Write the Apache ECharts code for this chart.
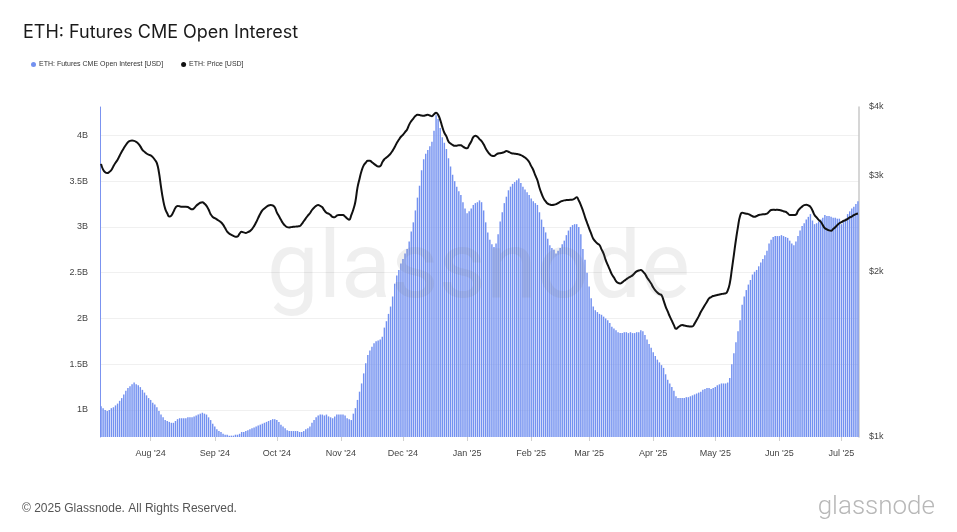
<!DOCTYPE html>
<html>
<head>
<meta charset="utf-8">
<script src="https://cdn.jsdelivr.net/npm/echarts@6/dist/echarts.min.js"></script>
<style>
html,body{margin:0;padding:0;background:#fff;}
#chart{width:957px;height:532px;}
</style>
</head>
<body>
<div id="chart"></div>
<script>
// ---- data ----
const startDate = '2024-07-08';
const openInterestB = [
1.04,1.02,1.00,0.99,1.00,1.02,1.03,1.05,1.07,1.10,
1.13,1.17,1.21,1.24,1.26,1.28,1.30,1.28,1.27,1.25,
1.22,1.19,1.16,1.13,1.11,1.08,1.06,1.03,0.99,0.95,
0.92,0.89,0.88,0.87,0.86,0.86,0.88,0.90,0.91,0.91,
0.91,0.91,0.92,0.92,0.92,0.93,0.94,0.95,0.96,0.97,
0.96,0.95,0.92,0.89,0.85,0.82,0.79,0.77,0.76,0.74,
0.73,0.73,0.72,0.72,0.72,0.73,0.73,0.74,0.76,0.76,
0.77,0.78,0.79,0.80,0.81,0.82,0.83,0.84,0.85,0.86,
0.87,0.88,0.89,0.90,0.90,0.89,0.87,0.84,0.82,0.80,
0.78,0.77,0.77,0.77,0.77,0.77,0.76,0.76,0.77,0.79,
0.80,0.82,0.86,0.89,0.92,0.94,0.95,0.95,0.94,0.95,
0.93,0.92,0.91,0.93,0.95,0.95,0.95,0.95,0.94,0.91,
0.90,0.89,0.96,1.02,1.11,1.20,1.29,1.40,1.51,1.60,
1.65,1.69,1.73,1.75,1.76,1.77,1.80,1.90,1.97,2.05,
2.13,2.24,2.38,2.47,2.53,2.60,2.65,2.71,2.76,2.84,
2.95,3.05,3.18,3.32,3.45,3.62,3.74,3.80,3.84,3.88,
3.93,4.05,4.22,4.18,4.08,3.98,3.92,3.85,3.75,3.66,
3.57,3.50,3.44,3.39,3.35,3.27,3.20,3.15,3.17,3.20,
3.24,3.26,3.27,3.29,3.27,3.18,3.05,2.94,2.86,2.81,
2.78,2.82,2.92,3.06,3.16,3.26,3.33,3.40,3.44,3.47,
3.49,3.51,3.53,3.48,3.44,3.41,3.38,3.35,3.31,3.28,
3.26,3.24,3.16,3.08,3.00,2.94,2.87,2.80,2.77,2.75,
2.71,2.74,2.77,2.81,2.85,2.91,2.96,3.00,3.02,3.03,
3.03,3.00,2.92,2.76,2.64,2.50,2.35,2.22,2.13,2.09,
2.07,2.05,2.04,2.02,2.00,1.98,1.95,1.91,1.89,1.87,
1.85,1.84,1.84,1.85,1.85,1.84,1.85,1.84,1.84,1.85,
1.85,1.87,1.86,1.82,1.77,1.72,1.68,1.63,1.59,1.55,
1.52,1.49,1.46,1.39,1.33,1.29,1.25,1.21,1.15,1.13,
1.13,1.13,1.13,1.14,1.14,1.15,1.16,1.17,1.18,1.19,
1.20,1.22,1.23,1.24,1.24,1.23,1.24,1.25,1.27,1.28,
1.29,1.29,1.29,1.30,1.35,1.50,1.62,1.74,1.86,1.98,
2.15,2.24,2.31,2.37,2.42,2.48,2.51,2.53,2.57,2.61,
2.65,2.69,2.74,2.82,2.86,2.89,2.90,2.90,2.90,2.91,
2.90,2.89,2.88,2.85,2.82,2.80,2.84,2.90,2.96,3.01,
3.04,3.08,3.11,3.14,3.07,3.03,3.04,3.06,3.08,3.10,
3.13,3.12,3.12,3.11,3.10,3.10,3.09,3.09,3.03,3.06,
3.09,3.14,3.17,3.20,3.22,3.25,3.28
];
const priceUSD = [
3150,3075,3040,3030,3045,3070,3120,3165,3205,3260,
3315,3365,3410,3450,3470,3475,3470,3455,3430,3390,
3340,3315,3290,3275,3265,3240,3205,3160,3040,2860,
2710,2610,2560,2525,2535,2575,2620,2640,2636,2630,
2630,2632,2628,2612,2602,2615,2640,2660,2675,2680,
2665,2640,2600,2550,2520,2508,2495,2480,2465,2440,
2405,2370,2350,2338,2328,2320,2322,2350,2368,2362,
2357,2365,2375,2395,2425,2465,2510,2555,2590,2612,
2630,2645,2650,2645,2625,2570,2530,2490,2455,2430,
2415,2412,2415,2418,2420,2422,2425,2445,2475,2505,
2535,2560,2595,2620,2640,2650,2640,2625,2590,2565,
2555,2540,2520,2518,2535,2542,2542,2540,2525,2505,
2490,2540,2600,2690,2850,2960,3060,3130,3165,3190,
3190,3172,3150,3130,3115,3120,3170,3212,3235,3260,
3290,3330,3380,3440,3485,3530,3560,3600,3640,3715,
3770,3810,3850,3870,3868,3858,3855,3865,3872,3860,
3848,3880,3905,3870,3790,3680,3590,3535,3460,3430,
3410,3398,3400,3408,3405,3388,3370,3362,3410,3460,
3525,3545,3530,3495,3465,3420,3360,3315,3280,3258,
3255,3275,3290,3295,3300,3310,3325,3315,3300,3291,
3288,3284,3278,3268,3253,3235,3210,3175,3120,3070,
3000,2940,2850,2780,2725,2690,2665,2655,2650,2652,
2660,2670,2685,2695,2702,2705,2706,2708,2711,2722,
2737,2700,2650,2590,2520,2460,2403,2350,2300,2275,
2255,2240,2200,2160,2105,2060,2020,1980,1955,1925,
1910,1906,1915,1928,1940,1952,1962,1972,1990,2005,
2012,2016,2005,1985,1955,1930,1905,1875,1852,1835,
1822,1815,1775,1730,1695,1660,1630,1600,1575,1585,
1595,1601,1597,1594,1592,1590,1592,1610,1635,1660,
1690,1715,1741,1765,1790,1800,1808,1812,1816,1820,
1823,1826,1828,1850,1906,2020,2150,2290,2420,2530,
2566,2560,2555,2551,2540,2528,2522,2530,2541,2545,
2548,2550,2555,2575,2595,2598,2596,2597,2595,2590,
2582,2576,2560,2541,2540,2540,2545,2585,2613,2632,
2649,2652,2645,2630,2590,2541,2515,2490,2470,2435,
2403,2392,2382,2378,2395,2413,2435,2454,2465,2478,
2488,2500,2516,2525,2540,2551,2558
];
const leftTicksB = [1, 1.5, 2, 2.5, 3, 3.5, 4];
const rightTicks = [1000, 2000, 3000, 4000];
const monthNames = ['Jan','Feb','Mar','Apr','May','Jun','Jul','Aug','Sep','Oct','Nov','Dec'];

// ---- build categories ----
const dates = [];
{
  const d0 = new Date(startDate + 'T00:00:00Z');
  for (let i = 0; i < openInterestB.length; i++) {
    const d = new Date(d0.getTime() + i * 86400000);
    dates.push(d.toISOString().slice(0, 10));
  }
}
const isMonthStart = (i) => dates[i] && dates[i].slice(8, 10) === '01';
const oiData = openInterestB.map(v => v * 1e9);

const FONT = '"Liberation Sans", Arial, sans-serif';
const GRID = '#f0f0f0';
const chart = echarts.init(document.getElementById('chart'), null, {renderer: 'canvas'});
chart.setOption({
  animation: false,
  backgroundColor: '#ffffff',
  title: {
    text: 'ETH: Futures CME Open Interest',
    left: 18, top: 19,
    textStyle: {fontFamily: 'Inter, "Noto Sans", sans-serif', fontSize: 18, fontWeight: 'normal', color: '#1a1a1a'}
  },
  legend: {
    left: 26, top: 56,
    icon: 'circle', itemWidth: 5, itemHeight: 5, itemGap: 18,
    textStyle: {fontFamily: FONT, fontSize: 7, color: '#333', padding: [0, 0, 0, -2]},
    data: ['ETH: Futures CME Open Interest [USD]', 'ETH: Price [USD]']
  },
  grid: {left: 100, right: 98, top: 107, bottom: 95},
  xAxis: {
    type: 'category',
    data: dates,
    boundaryGap: true,
    axisLine: {show: false},
    axisTick: {show: true, alignWithLabel: true, length: 4, lineStyle: {color: '#d0d0d0'}, interval: (i) => isMonthStart(i)},
    axisLabel: {
      interval: (i) => isMonthStart(i),
      margin: 12,
      fontFamily: FONT, fontSize: 9, color: '#444',
      formatter: (v) => monthNames[parseInt(v.slice(5, 7), 10) - 1] + " '" + v.slice(2, 4)
    },
    splitLine: {show: false}
  },
  yAxis: [
    {
      type: 'value',
      min: 0.705e9, max: 4.31e9,
      splitNumber: 8,
      position: 'left',
      axisLine: {show: true, lineStyle: {color: '#7b93f0', width: 1}},
      axisTick: {show: false},
      axisLabel: {
        fontFamily: FONT, fontSize: 9, color: '#444', margin: 12,
        showMinLabel: false, showMaxLabel: false,
        formatter: (v) => {
          const b = Math.round(v / 1e8) / 10;
          return leftTicksB.indexOf(b) >= 0 && Math.abs(v / 1e9 - b) < 1e-6 ? b + 'B' : '';
        }
      },
      splitLine: {show: true, lineStyle: {color: ['rgba(0,0,0,0)', GRID, GRID, GRID, GRID, GRID, GRID, GRID, 'rgba(0,0,0,0)'], width: 1}}
    },
    {
      type: 'log',
      logBase: 10,
      min: 1000, max: 4000,
      position: 'right',
      axisLine: {show: true, lineStyle: {color: '#c8c8c8', width: 1.5}},
      axisTick: {show: false},
      axisLabel: {
        customValues: rightTicks,
        fontFamily: FONT, fontSize: 9, color: '#444', margin: 10,
        formatter: (v) => '$' + Math.round(v / 1000) + 'k'
      },
      splitLine: {show: false}
    }
  ],
  graphic: [
    {
      type: 'text', left: 'center', top: 228, z: 100, silent: true,
      style: {text: 'glassnode', font: '400 92px Roboto, "Noto Sans", sans-serif', fill: 'rgba(110,110,110,0.11)'}
    },
    {
      type: 'text', left: 22, top: 503,
      style: {text: '\u00A9 2025 Glassnode. All Rights Reserved.', font: '12px "Liberation Sans", Arial, sans-serif', fill: '#555'}
    },
    {
      type: 'text', right: 22, top: 494,
      style: {text: 'glassnode', font: '300 26px Roboto, "Noto Sans", sans-serif', fill: '#b8b8b8'}
    }
  ],
  series: [
    {
      name: 'ETH: Futures CME Open Interest [USD]',
      type: 'bar',
      yAxisIndex: 0,
      data: oiData,
      barCategoryGap: '30%',
      itemStyle: {color: '#7391f0'},
      z: 2
    },
    {
      name: 'ETH: Price [USD]',
      type: 'line',
      yAxisIndex: 1,
      data: priceUSD,
      smooth: true,
      showSymbol: false,
      symbol: 'circle',
      lineStyle: {color: '#111', width: 2},
      itemStyle: {color: '#111'},
      z: 3
    }
  ]
});
</script>
</body>
</html>
